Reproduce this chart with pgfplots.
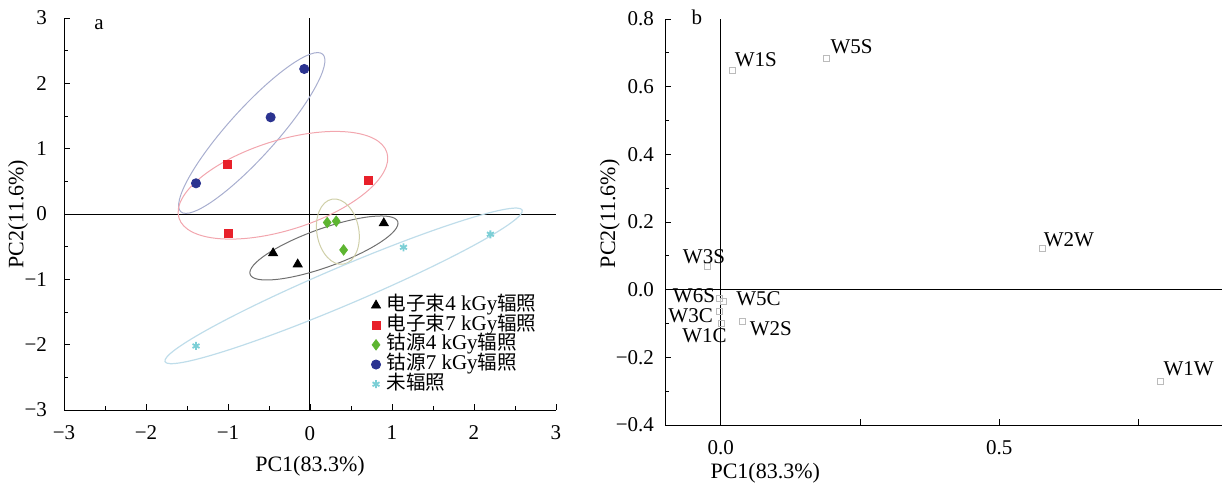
\documentclass[border=0pt]{standalone}
\usepackage{fontspec}
\setmainfont{Liberation Serif}
\newfontfamily\cjk{Noto Sans CJK SC}
\usepackage{pgfplots}
\pgfplotsset{compat=1.18}
\definecolor{myred}{HTML}{E8202A}
\definecolor{mygreen}{HTML}{5DB531}
\definecolor{myblue}{HTML}{2B3390}
\definecolor{mycyan}{HTML}{7CCFD6}
\definecolor{eblue}{HTML}{A8AECF}
\definecolor{ered}{HTML}{F2A6AE}
\definecolor{eblack}{HTML}{707070}
\definecolor{egreen}{HTML}{CFCFA8}
\definecolor{ecyan}{HTML}{BFDDEA}
\definecolor{ptgray}{HTML}{BBBBBB}
\newcommand{\cj}[1]{{\cjk\fontsize{9.8}{10}\selectfont #1}}
\pgfplotsset{
  common/.style={
    scale only axis,
    axis x line*=bottom, axis y line*=left,
    axis line style={-, line width=0.5pt},
    tick align=inside,
    major tick length=3pt, minor tick length=2pt,
    tick style={black, line width=0.4pt},
    ticklabel style={font=\fontsize{10.5}{12}\selectfont},
    label style={font=\fontsize{11}{13}\selectfont},
    clip=false,
  }
}
\begin{document}
\begin{tikzpicture}
\useasboundingbox (0,0) rectangle (611pt,244.5pt);
% ---------------- panel a ----------------
\begin{axis}[common,
  at={(32pt,39.5pt)}, anchor=south west,
  width=246pt, height=196pt,
  xmin=-3, xmax=3, ymin=-3, ymax=3,
  xtick={-3,-2,-1,0,1,2,3}, ytick={-3,-2,-1,0,1,2,3},
  xticklabels={−3,−2,−1,0,1,2,3}, yticklabels={−3,−2,−1,0,1,2,3},
  minor tick num=1,
  xticklabel style={yshift=-4.5pt},
  yticklabel style={xshift=-5pt},
  xlabel={PC1(83.3\%)}, ylabel={PC2(11.6\%)},
  x label style={at={(axis description cs:0.5,-0.100)}, anchor=north},
  y label style={at={(axis description cs:-0.0935,0.5)}, anchor=center},
  legend style={at={(0.62,0.298)}, anchor=north west, draw=none, fill=none,
    font=\fontsize{10.5}{11}\selectfont, row sep=0pt, inner sep=1pt,
    nodes={inner sep=0pt, text height=7.5pt, text depth=2.35pt}},
  legend cell align=left,
]
\addplot[black, line width=0.5pt, forget plot] coordinates {(-3,0) (3,0)};
\addplot[black, line width=0.5pt, forget plot] coordinates {(0,-3) (0,3)};
\draw[eblue, line width=0.5pt, rotate around={48:(axis cs:-0.71,1.24)}] (axis cs:-0.71,1.24) ellipse [x radius=53pt, y radius=12pt];
\draw[ered, line width=0.5pt, rotate around={17.5:(axis cs:-0.33,0.44)}] (axis cs:-0.33,0.44) ellipse [x radius=54.5pt, y radius=22.4pt];
\draw[eblack, line width=0.5pt, rotate around={19.7:(axis cs:0.17,-0.52)}] (axis cs:0.17,-0.52) ellipse [x radius=39.2pt, y radius=9.6pt];
\draw[egreen, line width=0.5pt, rotate around={100:(axis cs:0.34,-0.27)}] (axis cs:0.34,-0.27) ellipse [x radius=16.5pt, y radius=10.5pt];
\draw[ecyan, line width=0.6pt, rotate around={23:(axis cs:0.41,-1.10)}] (axis cs:0.41,-1.10) ellipse [x radius=97pt, y radius=9.5pt];
\addplot[only marks, mark=triangle*, mark size=2.6pt, black] coordinates {(-0.45,-0.60) (-0.15,-0.77) (0.90,-0.14)};
\addlegendentry{\hspace{3pt}\cj{电子束}4 kGy\cj{辐照}}
\addplot[only marks, mark=square*, mark size=2pt, myred, mark options={draw=myred, fill=myred}] coordinates {(-1.01,0.76) (0.71,0.52) (-0.99,-0.30)};
\addlegendentry{\hspace{3pt}\cj{电子束}7 kGy\cj{辐照}}
\addplot[only marks, mark=diamond*, mark size=2.6pt, mygreen, mark options={draw=mygreen, fill=mygreen}] coordinates {(0.21,-0.13) (0.32,-0.11) (0.41,-0.55)};
\addlegendentry{\hspace{3pt}\cj{钴源}4 kGy\cj{辐照}}
\addplot[only marks, mark=*, mark size=2.3pt, myblue, mark options={draw=myblue, fill=myblue}] coordinates {(-1.39,0.47) (-0.48,1.48) (-0.07,2.22)};
\addlegendentry{\hspace{3pt}\cj{钴源}7 kGy\cj{辐照}}
\addplot[only marks, mark=asterisk, mark size=2pt, mycyan, line width=0.9pt] coordinates {(-1.39,-2.02) (1.14,-0.51) (2.20,-0.31)};
\addlegendentry{\hspace{3pt}\cj{未辐照}}
\node[font=\fontsize{10.5}{12}\selectfont] at (rel axis cs:0.071,0.982) {a};
\end{axis}
% ---------------- panel b ----------------
\begin{axis}[common,
  at={(332.5pt,32pt)}, anchor=south west,
  width=278.5pt, height=203pt,
  xmin=-0.1, xmax=0.9, ymin=-0.4, ymax=0.8,
  xtick={0,0.25,0.5,0.75}, xticklabels={0.0,,0.5,},
  ytick={-0.4,-0.2,0,0.2,0.4,0.6,0.8},
  yticklabels={−0.4,−0.2,0.0,0.2,0.4,0.6,0.8},
  minor y tick num=1,
  xticklabel style={yshift=-4pt},
  yticklabel style={xshift=-2pt},
  xlabel={PC1(83.3\%)}, ylabel={PC2(11.6\%)},
  x label style={at={(axis description cs:0.18,-0.076)}, anchor=north},
  y label style={at={(axis description cs:-0.099,0.52)}, anchor=center},
]
\addplot[black, line width=0.5pt] coordinates {(-0.1,0) (0.9,0)};
\addplot[black, line width=0.5pt] coordinates {(0,-0.4) (0,0.8)};
\addplot[only marks, mark=square, mark size=1.5pt, ptgray, line width=0.5pt] coordinates {
 (0.022,0.649) (0.190,0.684) (0.578,0.121) (0.790,-0.270)
 (-0.023,0.067) (-0.002,-0.025) (0.005,-0.035) (-0.003,-0.065) (0.002,-0.100) (0.039,-0.095)};
\begin{scope}[every node/.style={font=\fontsize{10.5}{12}\selectfont, inner sep=0pt}]
\node at (axis cs:0.063,0.681) {W1S};
\node at (axis cs:0.235,0.717) {W5S};
\node at (axis cs:0.625,0.148) {W2W};
\node at (axis cs:0.840,-0.234) {W1W};
\node at (axis cs:-0.030,0.098) {W3S};
\node at (axis cs:-0.048,-0.019) {W6S};
\node at (axis cs:0.068,-0.027) {W5C};
\node at (axis cs:-0.054,-0.076) {W3C};
\node at (axis cs:-0.029,-0.135) {W1C};
\node at (axis cs:0.090,-0.116) {W2S};
\end{scope}
\node[font=\fontsize{10.5}{12}\selectfont] at (rel axis cs:0.057,1.005) {b};
\end{axis}
\end{tikzpicture}
\end{document}
